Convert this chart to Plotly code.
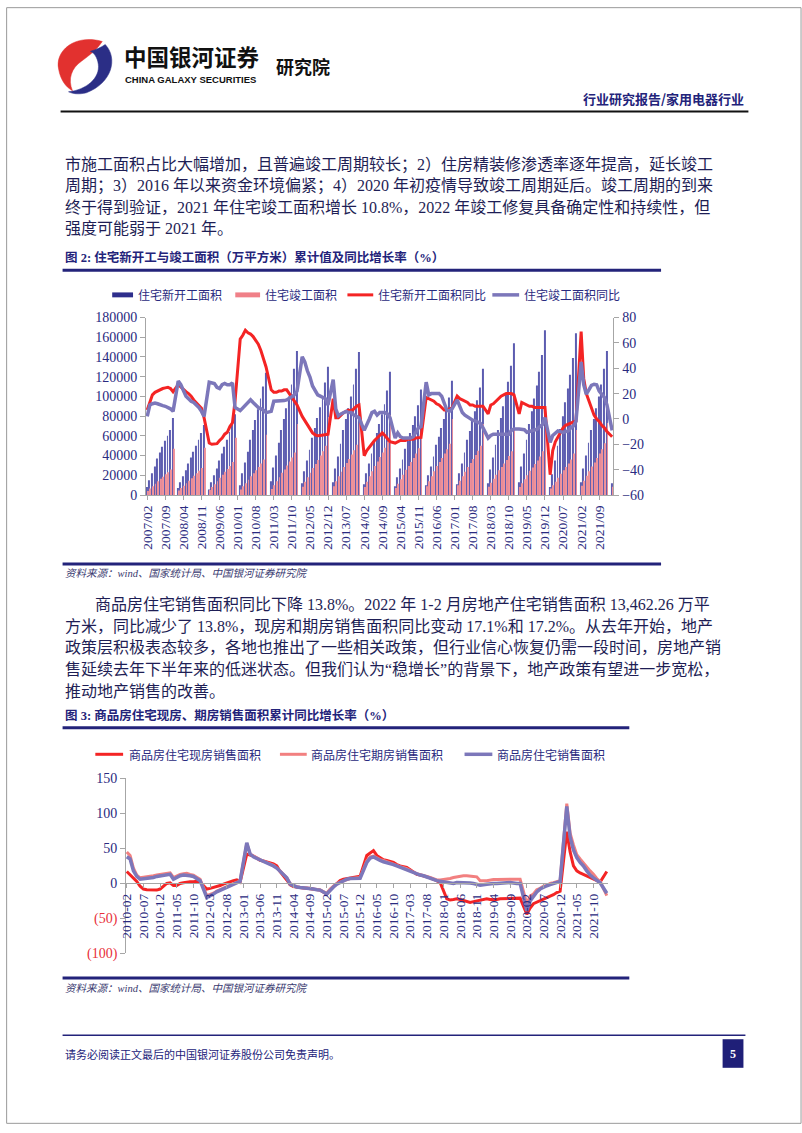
import plotly.graph_objects as go

# ---------------- page geometry helpers ----------------
W, H = 802, 1133
def px(x): return x / W
def py(y): return 1 - y / H

NAVY = "#23237A"
TXT = "#1E1E55"
TICK = "#2A2A80"
GRAY = "#A6A6A6"
CJK = "Noto Sans CJK SC"
MIX = "Liberation Serif, Noto Sans CJK SC"
SERIF = "Liberation Serif, Times New Roman, serif"

# ---------------- chart 1 data (2007/02 .. 2022/02) ----------------
months1 = [f"{y}/{m:02d}" for y in range(2007, 2023) for m in range(1, 13)]
months1 = months1[months1.index("2007/02"):months1.index("2022/02") + 1]

ticks1 = ["2007/02", "2007/09", "2008/04", "2008/11", "2009/06", "2010/01", "2010/08",
          "2011/03", "2011/10", "2012/05", "2012/12", "2013/07", "2014/02", "2014/09",
          "2015/04", "2015/11", "2016/06", "2017/01", "2017/08", "2018/03", "2018/10",
          "2019/05", "2019/12", "2020/07", "2021/02", "2021/09"]

new_starts = [  # 住宅新开工面积 累计值 (万平方米)
    8000, 15000, 22000, 29000, 37000, 43000, 49000, 55000, 60000, 66000, 78000,
    None, 7000, 13000, 19000, 25000, 32000, 38000, 44000, 50000, 56000, 63000, 71000,
    None, 5500, 13000, 20000, 27000, 35000, 42000, 49000, 56000, 64000, 72000, 82000,
    None, 10000, 22000, 33000, 44000, 56000, 66000, 76000, 87000, 98000, 110000, 124000,
    None, 14000, 28000, 40000, 53000, 66000, 77000, 88000, 100000, 112000, 128000, 146000,
    None, 12000, 24000, 35000, 46000, 58000, 68000, 78000, 89000, 100000, 114000, 130000,
    None, 13000, 27000, 39000, 52000, 66000, 77000, 88000, 100000, 112000, 128000, 145000,
    None, 11000, 22000, 32000, 42000, 54000, 63000, 72000, 82000, 92000, 106000, 125000,
    None, 9000, 18000, 27000, 36000, 47000, 55000, 63000, 71000, 80000, 91000, 107000,
    None, 10000, 20000, 29000, 39000, 51000, 59000, 68000, 77000, 87000, 99000, 116000,
    None, 11000, 22000, 32000, 43000, 56000, 65000, 75000, 85000, 96000, 109000, 128000,
    None, 12000, 26000, 38000, 51000, 66000, 78000, 90000, 102000, 115000, 131000, 154000,
    None, 13000, 29000, 42000, 56000, 72000, 85000, 98000, 111000, 125000, 142000, 167000,
    None, 8000, 21000, 35000, 50000, 67000, 80000, 94000, 108000, 122000, 139000, 164000,
    None, 13000, 27000, 40000, 53000, 66000, 77000, 88000, 100000, 112000, 128000, 146000,
    None, 12000,
]

completions = [  # 住宅竣工面积 累计值 (万平方米)
    4000, 6500, 9000, 11500, 14000, 16500, 18500, 21000, 23000, 26000, 47000,
    None, 4500, 7000, 9500, 12000, 14500, 17000, 19500, 22000, 24500, 27500, 48000,
    None, 5000, 8000, 11000, 14000, 17500, 20500, 23500, 26500, 29500, 33500, 58000,
    None, 5500, 9000, 12000, 15500, 19000, 22000, 25000, 28500, 32000, 36000, 61000,
    None, 6000, 10000, 14000, 18000, 22500, 26000, 30000, 34000, 38000, 43000, 72000,
    None, 8500, 13500, 18000, 22500, 27500, 31500, 35500, 40000, 44500, 50000, 79000,
    None, 9000, 14000, 19000, 23500, 28500, 32500, 36500, 41000, 45500, 51000, 79000,
    None, 8000, 13500, 19000, 24000, 29500, 34000, 38500, 43000, 48000, 54000, 81000,
    None, 7000, 11500, 16000, 20500, 25500, 29500, 33500, 37500, 42000, 47500, 74000,
    None, 9000, 14000, 19000, 24000, 29500, 33500, 37500, 42000, 46500, 52000, 77000,
    None, 10000, 14500, 19000, 23500, 28500, 32500, 36500, 40500, 45000, 50000, 72000,
    None, 8500, 12500, 16500, 20500, 25000, 28500, 32000, 35500, 39500, 44500, 66000,
    None, 8000, 12000, 16000, 20000, 24500, 28000, 31500, 35000, 39000, 44500, 68000,
    None, 6500, 10000, 13500, 17500, 21500, 25000, 28500, 32000, 36000, 42000, 66000,
    None, 9500, 14500, 19500, 24000, 29000, 33000, 37500, 42000, 46500, 52500, 73000,
    None, 8500,
]

new_starts_yoy = [  # 住宅新开工面积同比 (%)
    7, 14, 19, 21, 22, 23.5, 24, 24.5, 25, 24, 21.5,
    None, 27, 25, 23.5, 21.5, 20, 18, 15, 13, 10.5, 8.5, 1,
    None, -19, -20, -20, -19.5, -17, -15, -12, -10.5, -6, -3, 14,
    None, 63, 66, 70, 68, 67, 65, 62, 59, 54, 48, 41,
    None, 23, 21, 21, 22, 22, 23, 23, 20, 18, 15, 11,
    None, 2, -1, -4.5, -8, -11, -12.5, -13.3, -13, -12.5, -12, -12,
    None, 16, 1, 1, 3, 5, 6, 7, 6, 8, 10, 11,
    None, -29, -25, -22, -20, -17, -15, -13, -11, -13, -16, -18,
    None, -19, -18, -17, -17, -17, -16, -16, -16, -15, -15, -14.6,
    None, 17, 16, 15, 14, 12, 11, 9, 7, 7, 8, 8.7,
    None, 18, 16, 15, 14, 13, 11, 11, 10, 10, 10, 10,
    None, 4, 11, 12, 14, 16, 18, 19, 20, 20, 20, 19,
    None, 4, 13, 12, 11, 10, 10, 9, 9, 9, 9, 9,
    None, -44, -25, -18, -14, -10, -7, -5, -4, -3, -2, -1.6,
    None, 69, 32, 20, 14, 8, 3, 0, -2, -5, -7, -10,
    None, -14,
]

completions_yoy = [  # 住宅竣工面积同比 (%)
    2, 11, 12, 12.6, 12, 11, 10.5, 10, 9, 8, 6,
    None, 30, 27, 22, 18, 16, 14, 13, 11, 9, 6, 2,
    None, 29, 28.5, 28, 25, 24, 27, 28, 27, 27, 28.5, 9,
    None, 6.6, 9, 11.3, 13, 15.2, 13, 11, 9, 8, 7, 5,
    None, 6, 14, 14, 14, 14, 14.5, 15, 16, 17.5, 19, 22,
    None, 49, 45, 38, 33, 26, 22, 19, 18, 17, 16, 11,
    None, 31, 8, 2.5, 4, 5, 6, 5, 5, 3, 2, 1,
    None, -9, -5, 0, 5, 6, 3, 5, 5, 5, 4, 1,
    None, -15, -11, -14, -15, -15, -15, -15, -14, -10, -7, -6,
    None, 29, 19, 20, 20, 20, 20, 18, 12, 7, 6, 8,
    None, 15, 9, 5, 3, 1.5, 0.5, -1, -1.6, -2.5, -3.5, -7,
    None, -15, -13, -12, -12, -12, -12, -12, -12, -12, -9, -8,
    None, -8, -8, -8.5, -10.5, -10, -9.4, -9, -8, -6, -4.5, 1,
    None, -18.5, -13, -10.7, -9.4, -10, -10.7, -10, -9.4, -7, -5.5, -2,
    None, 45, 27, 19.5, 23, 26.5, 27.4, 27, 22, 19, 17, 11,
    None, -9,
]

# ---------------- chart 2 data (2010-02 .. 2022-02) ----------------
months2 = [f"{y}-{m:02d}" for y in range(2010, 2023) for m in range(1, 13)]
months2 = months2[months2.index("2010-02"):months2.index("2022-02") + 1]

ticks2 = ["2010-02", "2010-07", "2010-12", "2011-05", "2011-10", "2012-03", "2012-08",
          "2013-01", "2013-06", "2013-11", "2014-04", "2014-09", "2015-02", "2015-07",
          "2015-12", "2016-05", "2016-10", "2017-03", "2017-08", "2018-01", "2018-06",
          "2018-11", "2019-04", "2019-09", "2020-02", "2020-07", "2020-12", "2021-05",
          "2021-10"]

spot_sales = [  # 商品房住宅现房销售面积 累计同比 (%)
    17, 12, 8, 3, -4, -8, -9, -9.5, -9.5, -9.5, -8,
    None, 0, 1, -3, -3, 0, 1, 2, 2.4, 2.6, 3, 2,
    None, -8, -7, -6, -4, -3, -1, 1, 2, 4, 5, 2,
    None, 42, 41, 39, 36, 33, 32, 31, 30, 28, 25, 17,
    None, 5, -2, -4.5, -5.5, -6, -6.5, -7, -7.5, -8, -8, -9.5,
    None, -15, -9, -5, 0, 4, 6, 7, 8, 9, 9.5, 10.5,
    None, 40, 43, 47, 40, 37, 34, 33, 32, 30, 27, 25,
    None, 23, 20, 16, 13, 12, 11, 10, 8, 6, 4, 1.5,
    None, -22, -23.5, -23, -22, -23, -24.5, -25.5, -27, -26, -25, -24.5,
    None, -22, -23, -23.5, -23, -22, -22, -22, -22, -22, -22, -21,
    None, -44, -35, -29, -27, -25, -23, -21, -18, -16, -13, -11,
    None, 74, 45, 25, 18, 15, 13, 11, 9, 6, 4, 2,
    None, 17,
]

presale_sales = [  # 商品房住宅期房销售面积 累计同比 (%)
    45, 40, 22, 12, 8, 8.5, 9.4, 10, 11, 12, 12.5,
    None, 14, 15, 8.5, 11, 13, 14, 14.5, 13, 12, 9, 6,
    None, -17.5, -16, -14, -11, -9, -7, -5, -3.5, -1, 1.5, 3.8,
    None, 57, 42, 39, 37, 34, 32, 30, 29, 26, 22, 18,
    None, 8, 0, -3, -5, -5.7, -6, -6.5, -7, -8, -9, -9.4,
    None, -14, -8, -4, 0, 2, 4, 6, 7, 7.5, 8, 8.5,
    None, 32, 38, 39, 36, 34, 33, 31, 30, 28, 26, 24,
    None, 21, 18, 16, 14, 13, 12, 10, 8.5, 6.5, 5, 5,
    None, 6, 7, 8.5, 9.5, 11, 11, 11, 11, 10, 9.4, 4,
    None, 4, 5, 5.5, 5.7, 5.7, 5.8, 6, 6, 6, 6, 6,
    None, -29, -18, -15, -9, -7, -4, -3, 0, 1, 2.5, 4,
    None, 114, 72, 55, 41, 35, 29, 24, 18, 13, 7, 3,
    None, -17.5,
]

total_sales = [  # 商品房住宅销售面积 累计同比 (%)
    38, 35, 18, 10, 6, 6.5, 7.5, 8, 8.5, 10, 11,
    None, 13, 13, 6, 9, 11, 12, 12, 11, 10, 7.5, 4,
    None, -20, -18, -15, -12, -10, -8, -5.7, -4, -2, 0, 3,
    None, 58, 42, 38, 36, 33, 31, 30, 28, 25, 22, 17,
    None, 8, -1, -3.3, -5, -5.7, -6, -6.5, -7, -8, -9, -9.5,
    None, -15, -9, -5, -1, 1.5, 4, 6, 7, 7.5, 7.5, 7.5,
    None, 30, 36, 38, 35, 33, 31, 30, 28, 27, 25, 23,
    None, 19, 17, 15.6, 13, 12, 11, 9, 8, 6, 4, 3,
    None, 1.4, 0.5, 0, 1.4, 1.4, 1.4, 1.4, 0.5, 0, -1, -2.4,
    None, -1, 0, 0, 0, 0, 0.5, 1, 1.4, 0.5, 0, 0,
    None, -39, -25, -17.5, -12, -8, -5, -3.3, -1.6, 0, 1, 3,
    None, 110, 66, 48, 37, 30, 25, 18, 12, 8, 4, 1,
    None, -14,
]

for s in (new_starts, completions, new_starts_yoy, completions_yoy):
    assert len(s) == len(months1), len(s)
for s in (spot_sales, presale_sales, total_sales):
    assert len(s) == len(months2), len(s)

# ---------------- figure ----------------
fig = go.Figure()

C_NS_LEG = "#2E2E8C"
C_NS = "#5C5CB0"
C_CP_LEG = "#F08088"
C_CP = "#EE8F97"
C_RED = "#F42424"
C_PUR = "#7C77BA"
C_PINK = "#F28080"

fig.add_trace(go.Bar(x=months1, y=new_starts, marker=dict(color=C_NS, line=dict(width=0)),
                     name="住宅新开工面积", xaxis="x", yaxis="y"))
fig.add_trace(go.Bar(x=months1, y=completions, marker=dict(color=C_CP, line=dict(width=0)),
                     name="住宅竣工面积", xaxis="x", yaxis="y"))
fig.add_trace(go.Scatter(x=months1, y=new_starts_yoy, mode="lines", connectgaps=True,
                         line=dict(color=C_RED, width=3), name="住宅新开工面积同比",
                         xaxis="x", yaxis="y2"))
fig.add_trace(go.Scatter(x=months1, y=completions_yoy, mode="lines", connectgaps=True,
                         line=dict(color=C_PUR, width=3.5), name="住宅竣工面积同比",
                         xaxis="x", yaxis="y2"))

fig.add_trace(go.Scatter(x=months2, y=spot_sales, mode="lines", connectgaps=True,
                         line=dict(color=C_RED, width=3), name="商品房住宅现房销售面积",
                         xaxis="x2", yaxis="y3"))
fig.add_trace(go.Scatter(x=months2, y=presale_sales, mode="lines", connectgaps=True,
                         line=dict(color=C_PINK, width=3), name="商品房住宅期房销售面积",
                         xaxis="x2", yaxis="y3"))
fig.add_trace(go.Scatter(x=months2, y=total_sales, mode="lines", connectgaps=True,
                         line=dict(color=C_PUR, width=3.5), name="商品房住宅销售面积",
                         xaxis="x2", yaxis="y3"))

tickfont = dict(family=SERIF, size=14, color=TICK)

# chart 1 axes
y1_dom = [py(495), py(315)]
fig.update_layout(
    xaxis=dict(domain=[px(141), px(612)], anchor="y", type="category",
               categoryorder="array", categoryarray=months1,
               range=[-0.5, len(months1) - 0.5],
               tickmode="array", tickvals=ticks1, ticktext=ticks1, tickangle=-90,
               tickfont=dict(family=SERIF, size=13.5, color=TICK),
               showline=True, linecolor=GRAY, linewidth=1, ticks="outside",
               ticklen=4, tickcolor=GRAY, showgrid=False, zeroline=False),
    yaxis=dict(domain=y1_dom, anchor="x", range=[0, 180000],
               tickmode="array", tickvals=list(range(0, 180001, 20000)),
               ticktext=[str(v) for v in range(0, 180001, 20000)],
               tickfont=tickfont, showline=True, linecolor=GRAY, ticks="outside",
               ticklen=5, tickcolor=GRAY, showgrid=False, zeroline=False),
    yaxis2=dict(domain=y1_dom, anchor="x", overlaying="y", side="right",
                range=[-60, 80], tickmode="array", tickvals=list(range(-60, 81, 20)),
                tickfont=tickfont, showline=True, linecolor=GRAY, ticks="outside",
                ticklen=5, tickcolor=GRAY, showgrid=False, zeroline=False),
)

# chart 2 axes
y3_range = [-100, 150]
y3_dom = [py(960), py(782.5)]
zero_pos = y3_dom[0] + (0 - y3_range[0]) / (y3_range[1] - y3_range[0]) * (y3_dom[1] - y3_dom[0])
neg = "<span style='color:#E8303A'>{}</span>"
fig.update_layout(
    xaxis2=dict(domain=[px(120), px(607)], anchor="free", position=zero_pos, type="category",
                categoryorder="array", categoryarray=months2,
                range=[-0.5, len(months2) - 0.5],
                tickmode="array", tickvals=ticks2, ticktext=ticks2, tickangle=-90,
                tickfont=dict(family=SERIF, size=13.5, color=TICK),
                showline=True, linecolor=GRAY, ticks="outside", ticklen=4,
                tickcolor=GRAY, showgrid=False, zeroline=False),
    yaxis3=dict(domain=y3_dom, anchor="free", position=px(120), range=y3_range,
                tickmode="array", tickvals=[-100, -50, 0, 50, 100, 150],
                ticktext=[neg.format("(100)"), neg.format("(50)"), "0", "50", "100", "150"],
                tickfont=tickfont, showline=True, linecolor=GRAY, ticks="outside",
                ticklen=5, tickcolor=GRAY, showgrid=False, zeroline=False),
)

# ---------------- shapes ----------------
shapes = []
def hline(y, x0, x1, color, width):
    shapes.append(dict(type="line", xref="paper", yref="paper", x0=px(x0), x1=px(x1),
                       y0=py(y), y1=py(y), line=dict(color=color, width=width)))
def rect(x0, y0, x1, y1, color, line_color=None, lw=0):
    shapes.append(dict(type="rect", xref="paper", yref="paper", x0=px(x0), x1=px(x1),
                       y0=py(y1), y1=py(y0), fillcolor=color,
                       line=dict(color=line_color or color, width=lw)))
def path(spec, color):
    parts = []
    for cmd, pts in spec:
        parts.append(cmd + " ".join(f"{px(pts[k]):.5f},{py(pts[k+1]):.5f}"
                                    for k in range(0, len(pts), 2)))
    shapes.append(dict(type="path", xref="paper", yref="paper",
                       path=" ".join(parts) + " Z", fillcolor=color,
                       line=dict(color=color, width=0.5)))

# page border
shapes.append(dict(type="rect", xref="paper", yref="paper", x0=0.0008, x1=0.9988,
                   y0=0.0006, y1=0.9994, line=dict(color="#9A9A9A", width=1)))

# logo swirl
path([("M", [97, 35]), ("C", [70, 27, 49, 44, 53, 63]), ("C", [55, 74, 60, 81, 67, 85]),
      ("C", [62, 73, 66, 62, 76, 55]), ("C", [84, 49, 92, 43, 97, 35])], "#E2312F")
path([("M", [100, 38]), ("C", [113, 52, 107, 77, 81, 87]), ("C", [73, 89, 67, 88, 63, 86]),
      ("C", [81, 84, 95, 72, 93, 58]), ("C", [92, 51, 89, 47, 85, 45]),
      ("C", [91, 43, 96, 41, 100, 38])], "#2B2E86")

hline(106, 55, 748, "#111111", 2)          # header rule
hline(267, 57, 660, NAVY, 3)               # fig 2 top rule
hline(565, 57, 660, NAVY, 3)               # fig 2 bottom rule
hline(731, 57, 628, NAVY, 3)               # fig 3 top rule
hline(985, 57, 628, NAVY, 3)               # fig 3 bottom rule
hline(1043, 57, 745, NAVY, 1.5)            # footer rule
rect(722, 1047, 743, 1076, "#1F1F78")      # page number box

# legend swatches chart 1
rect(107, 289.5, 128, 294.5, C_NS_LEG)
rect(231, 289.5, 256, 294.5, C_CP_LEG)
shapes.append(dict(type="line", xref="paper", yref="paper", x0=px(344), x1=px(370),
                   y0=py(292), y1=py(292), line=dict(color=C_RED, width=3)))
shapes.append(dict(type="line", xref="paper", yref="paper", x0=px(490), x1=px(517),
                   y0=py(292), y1=py(292), line=dict(color=C_PUR, width=3.5)))
# legend swatches chart 2
for x0, x1, c, w in [(90, 118, C_RED, 3), (276, 303, C_PINK, 3), (462, 490, C_PUR, 3.5)]:
    shapes.append(dict(type="line", xref="paper", yref="paper", x0=px(x0), x1=px(x1),
                       y0=py(758), y1=py(758), line=dict(color=c, width=w)))

# ---------------- text ----------------
ann = []
def text(x, y, s, size, color=TXT, family=MIX, anchor="left"):
    ann.append(dict(x=px(x), y=py(y), xref="paper", yref="paper", text=s, showarrow=False,
                    xanchor=anchor, yanchor="middle", align=anchor,
                    font=dict(family=family, size=size, color=color)))

text(117, 50, "<b>中国银河证券</b>", 22.5, "#111111", CJK)
text(118, 74, "<b>CHINA GALAXY SECURITIES</b>", 9.5, "#111111",
     "Liberation Sans Narrow, Liberation Sans, Arial")
text(270, 60, "<b>研究院</b>", 18, "#111111", CJK)
text(746, 93, "<b>行业研究报告/家用电器行业</b>", 13, NAVY, CJK, anchor="right")

para1 = [
    "市施工面积占比大幅增加，且普遍竣工周期较长；2）住房精装修渗透率逐年提高，延长竣工",
    "周期；3）2016 年以来资金环境偏紧；4）2020 年初疫情导致竣工周期延后。竣工周期的到来",
    "终于得到验证，2021 年住宅竣工面积增长 10.8%，2022 年竣工修复具备确定性和持续性，但",
    "强度可能弱于 2021 年。",
]
for k, line in enumerate(para1):
    text(57, 160 + 21.5 * k, line, 16)

text(57, 254, "<b>图 2: 住宅新开工与竣工面积（万平方米）累计值及同比增长率（%）</b>", 12.5, NAVY)

text(131, 292, "住宅新开工面积", 12, TICK, CJK)
text(259, 292, "住宅竣工面积", 12, TICK, CJK)
text(373, 292, "住宅新开工面积同比", 12, TICK, CJK)
text(520, 292, "住宅竣工面积同比", 12, TICK, CJK)

text(57, 575, "<i>资料来源：wind、国家统计局、中国银河证券研究院</i>", 10.5, "#3A3A70")

para2 = [
    "商品房住宅销售面积同比下降 13.8%。2022 年 1-2 月房地产住宅销售面积 13,462.26 万平",
    "方米，同比减少了 13.8%，现房和期房销售面积同比变动 17.1%和 17.2%。从去年开始，地产",
    "政策层积极表态较多，各地也推出了一些相关政策，但行业信心恢复仍需一段时间，房地产销",
    "售延续去年下半年来的低迷状态。但我们认为“稳增长”的背景下，地产政策有望进一步宽松，",
    "推动地产销售的改善。",
]
for k, line in enumerate(para2):
    text(88 if k == 0 else 57, 606 + 22 * k, line, 16)

text(57, 719, "<b>图 3: 商品房住宅现房、期房销售面积累计同比增长率（%）</b>", 12.5, NAVY)

text(122, 758, "商品房住宅现房销售面积", 12, TICK, CJK)
text(305, 758, "商品房住宅期房销售面积", 12, TICK, CJK)
text(493, 758, "商品房住宅销售面积", 12, TICK, CJK)

text(57, 996, "<i>资料来源：wind、国家统计局、中国银河证券研究院</i>", 10.5, "#3A3A70")

text(57, 1062, "请务必阅读正文最后的中国银河证券股份公司免责声明。", 11, NAVY, CJK)
text(732.5, 1061.5, "<b>5</b>", 12, "#FFFFFF", SERIF, anchor="center")

fig.update_layout(
    width=W, height=H, margin=dict(l=0, r=0, t=0, b=0),
    paper_bgcolor="white", plot_bgcolor="white", showlegend=False,
    barmode="group", bargap=0.3, bargroupgap=0,
    shapes=shapes, annotations=ann,
)

fig.write_html("out.html", include_plotlyjs=True, config={"displayModeBar": False})
